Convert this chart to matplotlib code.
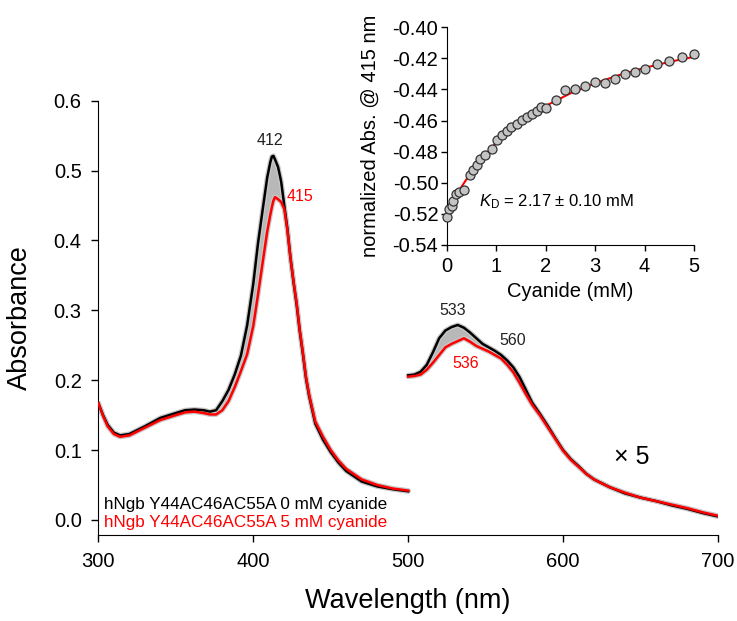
import numpy as np
import matplotlib
matplotlib.use('Agg')
import matplotlib.pyplot as plt

plt.rcParams['font.family'] = ['Liberation Sans', 'DejaVu Sans']
plt.rcParams['mathtext.fontset'] = 'custom'
plt.rcParams['mathtext.rm'] = 'Liberation Sans'
plt.rcParams['mathtext.it'] = 'Liberation Sans:italic'

# Soret region (300-500 nm)
wl_soret = [300, 303, 306, 310, 314, 320, 330, 340, 350, 356, 362, 368, 372, 376,
            380, 384, 388, 392, 396, 400, 403, 406, 409, 411, 412, 413, 414, 416, 418,
            420, 422, 424, 426, 428, 430, 432, 434, 436, 440, 445, 450, 455, 460,
            470, 480, 490, 500]
abs_0mM = [0.167, 0.150, 0.136, 0.125, 0.121, 0.123, 0.134, 0.146, 0.153, 0.157, 0.158,
           0.157, 0.155, 0.157, 0.170, 0.186, 0.208, 0.235, 0.278, 0.338, 0.395, 0.443,
           0.490, 0.512, 0.520, 0.521, 0.516, 0.505, 0.484, 0.450, 0.417, 0.375, 0.340,
           0.308, 0.270, 0.238, 0.203, 0.178, 0.138, 0.115, 0.097, 0.082, 0.070, 0.055,
           0.048, 0.044, 0.041]
abs_5mM = [0.167, 0.149, 0.134, 0.123, 0.119, 0.121, 0.132, 0.143, 0.150, 0.154, 0.155,
           0.153, 0.151, 0.151, 0.157, 0.170, 0.190, 0.213, 0.237, 0.278, 0.322, 0.368,
           0.413, 0.437, 0.448, 0.457, 0.462, 0.459, 0.455, 0.445, 0.415, 0.375, 0.341,
           0.310, 0.272, 0.240, 0.205, 0.180, 0.141, 0.119, 0.100, 0.085, 0.073, 0.058,
           0.050, 0.045, 0.042]

# Q-band region (500-700 nm, shown x5)
wl_q = [500, 504, 508, 512, 516, 520, 524, 528, 532, 536, 540, 544, 548, 552, 556, 560,
        564, 568, 572, 576, 580, 585, 590, 595, 600, 605, 610, 615, 620, 630, 640, 650,
        660, 670, 680, 690, 700]
q_0mM = [0.207, 0.208, 0.212, 0.222, 0.240, 0.260, 0.271, 0.276, 0.279, 0.275, 0.268,
         0.260, 0.252, 0.247, 0.242, 0.236, 0.228, 0.218, 0.204, 0.186, 0.168, 0.152,
         0.135, 0.117, 0.100, 0.087, 0.077, 0.066, 0.058, 0.047, 0.038, 0.032, 0.027,
         0.021, 0.016, 0.010, 0.005]
q_5mM = [0.205, 0.206, 0.208, 0.215, 0.225, 0.236, 0.247, 0.252, 0.256, 0.260, 0.255,
         0.249, 0.245, 0.241, 0.236, 0.231, 0.222, 0.211, 0.196, 0.180, 0.165, 0.150,
         0.133, 0.116, 0.099, 0.086, 0.076, 0.066, 0.058, 0.047, 0.039, 0.032, 0.027,
         0.022, 0.017, 0.011, 0.006]

# inset titration
cyanide = [0.0, 0.05, 0.1, 0.135, 0.19, 0.24, 0.35, 0.47, 0.54, 0.61, 0.67, 0.77, 0.91,
           1.01, 1.11, 1.21, 1.31, 1.42, 1.52, 1.62, 1.72, 1.82, 1.9, 2.0, 2.2, 2.4,
           2.6, 2.8, 3.0, 3.2, 3.4, 3.6, 3.8, 4.0, 4.25, 4.5, 4.75, 5.0]
norm_abs = [-0.522, -0.517, -0.515, -0.512, -0.507, -0.506, -0.5045, -0.495, -0.492,
            -0.4885, -0.485, -0.482, -0.478, -0.4725, -0.469, -0.4665, -0.464, -0.462,
            -0.4596, -0.458, -0.4557, -0.4538, -0.4514, -0.452, -0.4467, -0.4403,
            -0.4399, -0.4377, -0.435, -0.436, -0.4334, -0.430, -0.4285, -0.4268,
            -0.4236, -0.4214, -0.4189, -0.4171]
fit_x = [0, 0.25, 0.5, 0.75, 1, 1.5, 2, 2.5, 3, 3.5, 4, 4.5, 5]
fit_y = [-0.520, -0.505, -0.4929, -0.4828, -0.4743, -0.4608, -0.4506, -0.4425,
         -0.4360, -0.4306, -0.4261, -0.4223, -0.4190]

fig = plt.figure(figsize=(7.37, 6.21), dpi=100)

# main axes
ax = fig.add_axes([0.1335, 0.1385, 0.8407, 0.6994])
for wl, a0, a5 in [(wl_soret, abs_0mM, abs_5mM), (wl_q, q_0mM, q_5mM)]:
    wl = np.array(wl)
    a0 = np.array(a0)
    a5 = np.array(a5)
    ax.fill_between(wl, a5, a0, where=a0 >= a5, color='#b8b8b8', lw=0, zorder=1)
    ax.plot(wl, a0, color='#c8c8c8', lw=3.6, zorder=2, solid_capstyle='round')
    ax.plot(wl, a5, color='#c8c8c8', lw=3.6, zorder=2, solid_capstyle='round')
    ax.plot(wl, a0, color='black', lw=1.8, zorder=3)
    ax.plot(wl, a5, color='#ff0000', lw=1.8, zorder=4)

ax.set_xlim(300, 700)
ax.set_ylim(-0.0215, 0.6)
ax.set_xticks([300, 400, 500, 600, 700])
ax.set_yticks([0.0, 0.1, 0.2, 0.3, 0.4, 0.5, 0.6])
ax.yaxis.set_major_formatter(matplotlib.ticker.FormatStrFormatter('%.1f'))
ax.spines['top'].set_visible(False)
ax.spines['right'].set_visible(False)
ax.tick_params(direction='out', length=5, width=1, labelsize=14.5, pad=7)
ax.set_xlabel('Wavelength (nm)', fontsize=19.5)
ax.set_ylabel('Absorbance', fontsize=19.5)
ax.xaxis.set_label_coords(0.499, -0.122)
ax.yaxis.set_label_coords(-0.1056, 0.5)

ax.text(410.7, 0.5436, '412', ha='center', va='center', fontsize=11.5, color='#222222')
ax.text(421.5, 0.4625, '415', ha='left', va='center', fontsize=11.5, color='#ff0000')
ax.text(529, 0.300, '533', ha='center', va='center', fontsize=11.5, color='#222222')
ax.text(567.7, 0.2575, '560', ha='center', va='center', fontsize=11.5, color='#222222')
ax.text(537, 0.224, '536', ha='center', va='center', fontsize=11.5, color='#ff0000')
ax.text(644.6, 0.0906, '× 5', ha='center', va='center', fontsize=18, color='black')
ax.text(303.5, 0.0215, 'hNgb Y44AC46AC55A 0 mM cyanide', ha='left', va='center',
        fontsize=12.3, color='black')
ax.text(303.5, -0.0043, 'hNgb Y44AC46AC55A 5 mM cyanide', ha='left', va='center',
        fontsize=12.3, color='#ff0000')

# inset
ins = fig.add_axes([0.6061, 0.6055, 0.3356, 0.3506])
ins.plot(fit_x, fit_y, color='#ff0000', lw=1.5, zorder=2)
ins.plot(cyanide, norm_abs, 'o', ms=6.5, mfc='#c4c4c4', mec='#333333', mew=0.9,
         zorder=3, clip_on=False)
ins.set_xlim(0, 5)
ins.set_ylim(-0.54, -0.40)
ins.set_xticks([0, 1, 2, 3, 4, 5])
ins.set_yticks(np.arange(-0.54, -0.399, 0.02))
ins.yaxis.set_major_formatter(matplotlib.ticker.FormatStrFormatter('%.2f'))
ins.spines['top'].set_visible(False)
ins.spines['right'].set_visible(False)
ins.patch.set_alpha(0)
ins.tick_params(direction='out', length=4, width=1, labelsize=14.5, pad=2)
ins.tick_params(axis='x', pad=5)
ins.set_xlabel('Cyanide (mM)', fontsize=14.5)
ins.set_ylabel('normalized Abs. @ 415 nm', fontsize=14.5)
ins.xaxis.set_label_coords(0.5, -0.169)
ins.yaxis.set_label_coords(-0.27, 0.5)
ins.text(0.66, -0.5121, r'$K_\mathrm{D}$ = 2.17 ± 0.10 mM', ha='left', va='center',
         fontsize=12)

fig.savefig('out.png', dpi=100)
